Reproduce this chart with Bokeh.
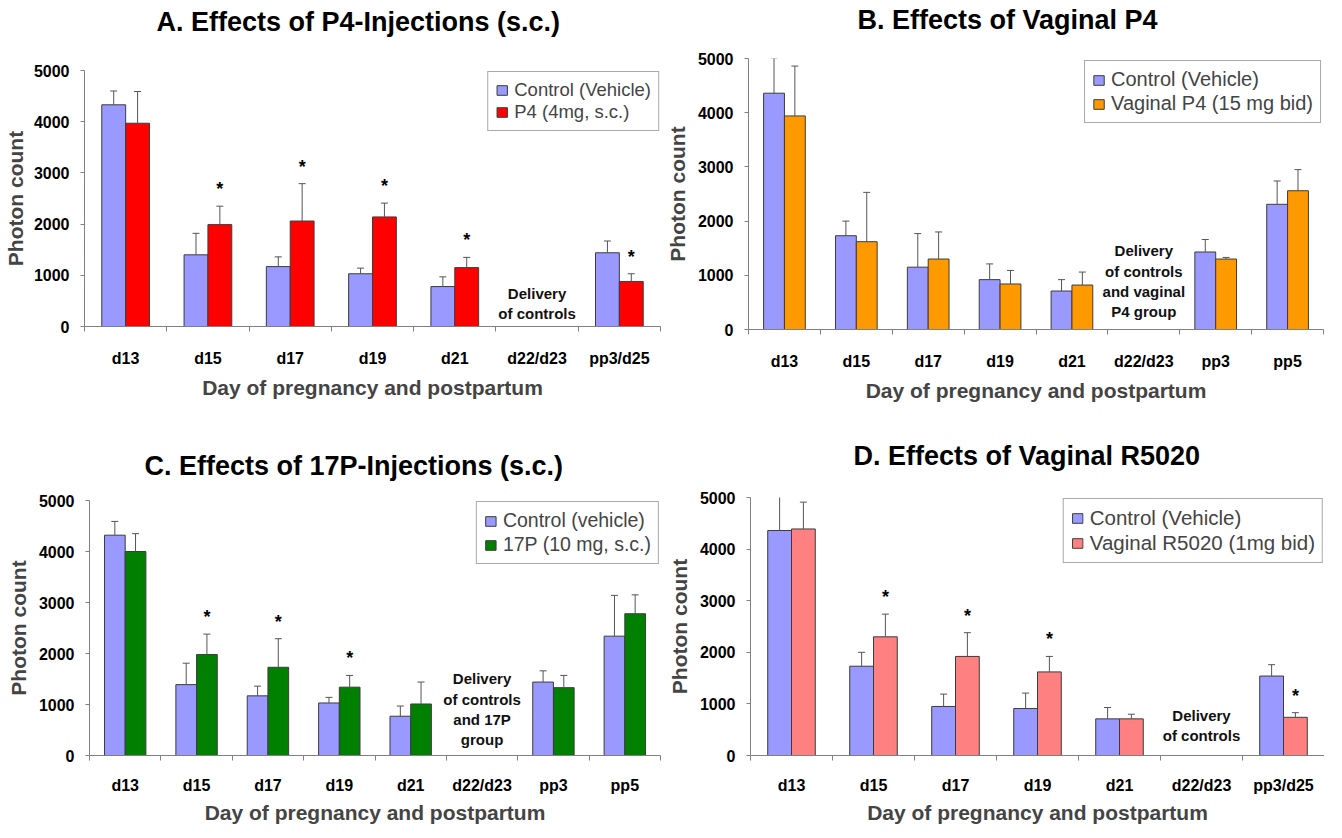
import numpy as np
from bokeh.plotting import figure
from bokeh.models import (ColumnDataSource, Range1d, FixedTicker, Whisker, TeeHead,
                          Legend, LegendItem, Title)
from bokeh.layouts import column, row
from bokeh.embed import file_html
from bokeh.resources import INLINE
from bokeh.core.properties import value

FONT = "Liberation Sans"
CONTROL_COLOR = "#9999FF"

# ---------------- data ----------------
# Panel A
cats_A = ["d13", "d15", "d17", "d19", "d21", "d22/d23", "pp3/d25"]
ctrl_A = [4330, 1400, 1170, 1030, 780, None, 1440]
ctrl_err_A = [270, 420, 190, 110, 190, None, 230]
p4sc_A = [3970, 1990, 2060, 2140, 1150, None, 880]
p4sc_err_A = [620, 360, 730, 270, 200, None, 150]
sig_A = [False, True, True, True, True, False, True]

# Panel B
cats_B = ["d13", "d15", "d17", "d19", "d21", "d22/d23", "pp3", "pp5"]
ctrl_B = [4360, 1730, 1150, 920, 710, None, 1430, 2310]
ctrl_err_B = [650, 270, 620, 290, 210, None, 230, 430]
vp4_B = [3940, 1620, 1300, 840, 820, None, 1300, 2560]
vp4_err_B = [920, 910, 500, 250, 240, None, 30, 390]
sig_B = [False] * 8

# Panel C
cats_C = ["d13", "d15", "d17", "d19", "d21", "d22/d23", "pp3", "pp5"]
ctrl_C = [4320, 1390, 1170, 1030, 770, None, 1440, 2340]
ctrl_err_C = [270, 420, 190, 110, 200, None, 220, 800]
p17_C = [4000, 1980, 1730, 1340, 1010, None, 1330, 2780]
p17_err_C = [350, 400, 560, 230, 430, None, 240, 370]
sig_C = [False, True, True, True, False, False, False, False]

# Panel D
cats_D = ["d13", "d15", "d17", "d19", "d21", "d22/d23", "pp3/d25"]
ctrl_D = [4360, 1730, 950, 910, 710, None, 1540]
ctrl_err_D = [660, 270, 240, 300, 220, None, 220]
r5020_D = [4390, 2300, 1920, 1620, 710, None, 740]
r5020_err_D = [520, 440, 460, 300, 90, None, 90]
sig_D = [False, True, True, True, False, False, True]

y_ticks = [0, 1000, 2000, 3000, 4000, 5000]


def make_panel(title, cats, ctrl, ctrl_err, trt, trt_err, sig, ctrl_label, trt_label,
               trt_color, note, note_cat, note_off, height, borders, title_offset,
               title_gap, legend_margin, legend_font, legend_spacing, x_standoffs,
               ylab_standoff):
    n = len(cats)
    bl, br, bt, bb = borders
    p = figure(width=662, height=height, x_range=Range1d(0, n), y_range=Range1d(0, 5000),
               output_backend="svg", toolbar_location=None,
               min_border_left=bl, min_border_right=br, min_border_top=bt,
               min_border_bottom=bb)
    centers = np.arange(n) + 0.5
    w = 0.29

    renderers = []
    for vals, errs, color, shift in ((ctrl, ctrl_err, CONTROL_COLOR, -w / 2),
                                     (trt, trt_err, trt_color, w / 2)):
        idx = [i for i, v in enumerate(vals) if v is not None]
        src = ColumnDataSource(dict(
            x=[centers[i] + shift for i in idx],
            top=[vals[i] for i in idx],
            upper=[vals[i] + errs[i] for i in idx],
        ))
        r = p.vbar(x="x", top="top", bottom=0, width=w, source=src,
                   fill_color=color, line_color="#3c3c3c", line_width=1)
        renderers.append(r)
        wk = Whisker(source=src, base="x", lower="top", upper="upper",
                     dimension="height", line_color="#555555", line_width=1,
                     lower_head=None,
                     upper_head=TeeHead(size=7, line_color="#555555", line_width=1),
                     level="glyph")
        p.add_layout(wk)

    # significance stars above treatment bars
    sidx = [i for i, s in enumerate(sig) if s]
    if sidx:
        p.text(x=[centers[i] + w / 2 for i in sidx],
               y=[trt[i] + trt_err[i] for i in sidx],
               text=["*"] * len(sidx), text_font=value(FONT), text_font_style="bold",
               text_font_size="18px", text_align="center", text_baseline="middle",
               y_offset=-17, text_color="black")

    # delivery note
    ni = cats.index(note_cat)
    p.text(x=[centers[ni]], y=[0], text=[note], text_font=value(FONT),
           text_font_style="bold", text_font_size="15px", text_align="center",
           text_baseline="bottom", y_offset=-note_off, text_line_height=1.2,
           text_color="#111111")

    # axes
    xa = p.xaxis[0]
    xa.ticker = FixedTicker(ticks=list(centers), minor_ticks=list(np.arange(n + 1)))
    xa.major_label_overrides = {float(c): cat for c, cat in zip(centers, cats)}
    xa.major_tick_out = 0
    xa.major_tick_in = 0
    xa.minor_tick_out = 5
    xa.minor_tick_in = 0
    xa.minor_tick_line_color = "#808080"
    xa.axis_line_color = "#808080"
    xa.major_label_text_font = FONT
    xa.major_label_text_font_style = "bold"
    xa.major_label_text_font_size = "16px"
    xa.major_label_text_color = "black"
    xa.major_label_standoff = x_standoffs[0]
    xa.axis_label = "Day of pregnancy and postpartum"
    xa.axis_label_text_font = FONT
    xa.axis_label_text_font_style = "bold"
    xa.axis_label_text_font_size = "21px"
    xa.axis_label_standoff = x_standoffs[1]

    ya = p.yaxis[0]
    ya.ticker = FixedTicker(ticks=y_ticks)
    ya.major_tick_out = 4
    ya.major_tick_in = 0
    ya.major_tick_line_color = "#808080"
    ya.axis_line_color = "#808080"
    ya.minor_tick_line_color = None
    ya.major_label_text_font = FONT
    ya.major_label_text_font_style = "bold"
    ya.major_label_text_font_size = "16px"
    ya.major_label_text_color = "black"
    ya.major_label_standoff = 11
    ya.axis_label = "Photon count"
    ya.axis_label_text_font = FONT
    ya.axis_label_text_font_style = "bold"
    ya.axis_label_text_font_size = "21px"
    ya.axis_label_standoff = ylab_standoff

    p.xgrid.visible = False
    p.ygrid.visible = False
    p.outline_line_color = None

    # spacer between the title and the plot frame
    p.add_layout(Title(text=" ", text_font_size="10px", standoff=title_gap), "above")
    p.title.text = title
    p.title.text_font = FONT
    p.title.text_font_style = "bold"
    p.title.text_font_size = "27px"
    p.title.text_color = "black"
    p.title.align = "left"
    p.title.offset = title_offset
    p.title.standoff = 0

    legend = Legend(items=[LegendItem(label=ctrl_label, renderers=[renderers[0]]),
                           LegendItem(label=trt_label, renderers=[renderers[1]])],
                    location="top_right", margin=legend_margin, padding=7,
                    spacing=legend_spacing, glyph_width=13, glyph_height=12,
                    label_standoff=6, label_text_font=FONT,
                    label_text_font_size=legend_font,
                    border_line_color="#555555", border_line_width=1,
                    background_fill_color="white", background_fill_alpha=1)
    p.add_layout(legend)
    return p


pA = make_panel("A. Effects of P4-Injections (s.c.)", cats_A, ctrl_A, ctrl_err_A,
                p4sc_A, p4sc_err_A, sig_A, "Control (Vehicle)", "P4 (4mg, s.c.)",
                "#FF0000", "Delivery\nof controls", "d22/d23", 4,
                410, (80, 2, 70, 84), 72, 21, 1, "18.5px", 0, (18, 6), 4)
pB = make_panel("B. Effects of Vaginal P4", cats_B, ctrl_B, ctrl_err_B,
                vp4_B, vp4_err_B, sig_B, "Control (Vehicle)", "Vaginal P4 (15 mg bid)",
                "#FF9900", "Delivery\nof controls\nand vaginal\nP4 group", "d22/d23", 9,
                410, (85, 1, 58, 81), 109, 11, 2, "20px", 1, (18, 6), 6)
pC = make_panel("C. Effects of 17P-Injections (s.c.)", cats_C, ctrl_C, ctrl_err_C,
                p17_C, p17_err_C, sig_C, "Control (vehicle)", "17P (10 mg, s.c.)",
                "#008000", "Delivery\nof controls\nand 17P\ngroup", "d22/d23", 7,
                416, (89, 2, 90, 66), 55, 7, 1, "19.5px", 1, (16, 4), 6)
pD = make_panel("D. Effects of Vaginal R5020", cats_D, ctrl_D, ctrl_err_D,
                r5020_D, r5020_err_D, sig_D, "Control (Vehicle)", "Vaginal R5020 (1mg bid)",
                "#FF8080", "Delivery\nof controls", "d22/d23", 11,
                416, (88, 0, 87, 66), 103, 14, 1, "20.5px", 1, (16, 4), 6)

layout = column(row(column(pA), column(pB)), row(column(pC), column(pD)))

open("out.html", "w").write(file_html(layout, INLINE))
